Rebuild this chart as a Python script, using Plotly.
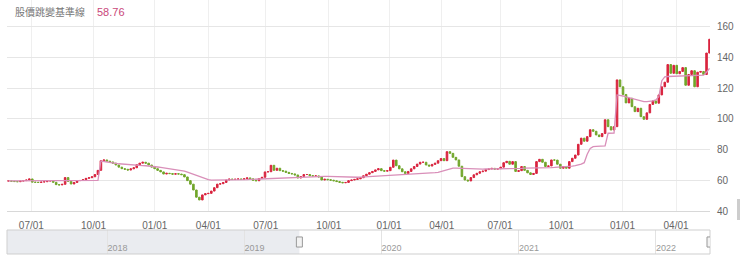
import pandas as pd
import plotly.graph_objects as go

TITLE = "股價跳變基準線"
TITLE_VALUE = "58.76"

start_date, end_date = "2019-05-27", "2022-05-25"
nav_start, nav_end = "2017-04-08", "2022-05-25"

holidays = [
    "2019-06-07", "2019-09-13", "2019-10-10", "2019-10-11",
    "2020-01-01", "2020-01-21", "2020-01-22", "2020-01-23", "2020-01-24", "2020-01-27",
    "2020-01-28", "2020-01-29", "2020-02-28", "2020-04-02", "2020-04-03", "2020-05-01",
    "2020-06-25", "2020-06-26", "2020-10-01", "2020-10-02", "2020-10-09",
    "2021-01-01", "2021-02-08", "2021-02-09", "2021-02-10", "2021-02-11", "2021-02-12",
    "2021-02-15", "2021-02-16", "2021-03-01", "2021-04-02", "2021-04-05", "2021-04-30",
    "2021-06-14", "2021-09-20", "2021-09-21", "2021-10-11", "2021-12-31",
    "2022-01-27", "2022-01-28", "2022-01-31", "2022-02-01", "2022-02-02", "2022-02-03",
    "2022-02-04", "2022-02-28", "2022-04-04", "2022-04-05", "2022-05-02",
]

quarter_starts = ["2019-07-01", "2019-10-01", "2020-01-01", "2020-04-01", "2020-07-01",
                  "2020-10-01", "2021-01-01", "2021-04-01", "2021-07-01", "2021-10-01",
                  "2022-01-01", "2022-04-01"]
quarter_labels = ["07/01", "10/01", "01/01", "04/01", "07/01", "10/01",
                  "01/01", "04/01", "07/01", "10/01", "01/01", "04/01"]
year_ticks = ["2018-01-01", "2019-01-01", "2020-01-01", "2021-01-01", "2022-01-01"]
year_labels = ["2018", "2019", "2020", "2021", "2022"]
y_ticks = [40, 60, 80, 100, 120, 140, 160]

close = [
    59.6, 59.4, 59.2, 59.1, 59.5, 59.8, 60.2, 60.9, 58.8, 58.7,
    58.6, 58.9, 59.1, 59.5, 59.8, 58.7, 57.2, 57.0, 57.4, 61.8,
    59.3, 57.6, 58.6, 59.8, 59.9, 60.4, 61.3, 61.7, 62.3, 63.8,
    66.5, 72.8, 73.3, 72.5, 72.0, 71.2, 70.0, 68.6, 67.6, 67.2,
    66.7, 67.5, 68.2, 70.2, 71.2, 71.8, 71.2, 70.0, 68.6, 67.6,
    66.5, 65.5, 64.1, 64.6, 64.4, 64.0, 64.3, 64.1, 63.7, 62.2,
    59.8, 57.5, 53.7, 49.0, 47.2, 50.5, 51.3, 51.5, 53.0, 55.2,
    57.5, 57.8, 58.6, 60.2, 60.8, 60.6, 60.7, 60.9, 60.6, 61.0,
    61.6, 61.0, 60.0, 59.7, 61.2, 62.0, 65.5, 65.6, 69.8, 66.5,
    67.9, 66.3, 66.0, 65.2, 64.5, 64.2, 63.5, 61.5, 62.5, 63.8,
    63.8, 63.0, 62.8, 62.9, 62.2, 60.2, 60.7, 60.4, 60.1, 59.7,
    59.2, 58.7, 58.4, 58.6, 59.8, 60.2, 60.6, 61.0, 61.7, 63.0,
    64.0, 65.0, 65.8, 66.8, 67.6, 66.3, 66.0, 66.3, 68.5, 73.2,
    69.5, 67.5, 65.6, 64.4, 65.8, 67.5, 69.0, 70.6, 71.8, 71.8,
    70.0, 69.3, 70.4, 71.2, 72.8, 74.2, 72.8, 78.7, 77.6, 75.0,
    73.3, 69.2, 62.4, 60.2, 59.6, 61.8, 63.6, 64.6, 65.6, 66.0,
    67.0, 67.4, 67.8, 67.3, 67.6, 68.6, 71.5, 72.4, 70.5, 72.2,
    65.8, 66.3, 69.0, 66.5, 64.9, 63.8, 64.5, 72.2, 73.7, 71.8,
    69.0, 69.4, 73.3, 73.2, 70.5, 67.9, 69.0, 67.9, 72.2, 74.4,
    76.5, 83.5, 87.5, 85.5, 88.5, 93.0, 92.0, 89.6, 88.5, 90.5,
    99.5, 95.0, 92.8, 95.0, 125.5, 121.0, 116.0, 110.5, 113.5, 108.0,
    104.8, 107.0, 101.5, 99.8, 104.0, 109.5, 111.8, 110.3, 115.7, 121.0,
    124.0, 135.5, 129.8, 135.0, 129.5, 131.0, 133.5, 122.0, 129.0, 131.5,
    121.0, 130.5, 131.0, 129.0, 143.0, 152.0,
]

baseline = [
    59.7, 59.7, 59.7, 59.7, 59.7, 59.7, 59.7, 59.8, 60.0, 60.0,
    60.0, 60.0, 60.0, 60.0, 60.0, 60.0, 60.0, 60.0, 60.0, 60.0,
    60.0, 60.0, 60.0, 60.0, 60.0, 60.0, 60.0, 60.0, 60.0, 60.0,
    60.0, 72.6, 72.4, 72.0, 71.7, 71.4, 71.1, 70.8, 70.6, 70.4,
    70.2, 70.0, 69.9, 69.8, 69.7, 69.6, 69.5, 69.4, 69.2, 69.0,
    68.7, 68.4, 68.1, 67.9, 67.7, 67.5, 67.3, 67.0, 66.7, 66.0,
    65.3, 64.6, 63.7, 62.8, 62.0, 61.3, 60.8, 60.4, 60.1, 60.1,
    60.1, 60.2, 60.2, 60.2, 60.2, 60.3, 60.3, 60.3, 60.4, 60.5,
    60.5, 60.6, 60.7, 60.7, 60.8, 60.9, 60.9, 61.0, 61.1, 61.2,
    61.3, 61.4, 61.5, 61.6, 61.7, 61.8, 61.9, 62.0, 62.1, 62.2,
    62.3, 62.4, 62.5, 62.5, 62.6, 62.6, 62.6, 62.6, 62.5, 62.5,
    62.4, 62.3, 62.2, 62.1, 62.0, 62.0, 62.0, 62.0, 62.1, 62.2,
    62.3, 62.4, 62.5, 62.6, 62.7, 62.8, 62.9, 63.0, 63.1, 63.2,
    63.3, 63.4, 63.5, 63.6, 63.7, 63.8, 63.9, 64.0, 64.2, 64.4,
    64.6, 64.8, 64.9, 65.0, 65.2, 65.8, 66.6, 67.2, 67.6, 67.9,
    67.9, 67.8, 67.7, 67.6, 67.5, 67.4, 67.3, 67.3, 67.3, 67.3,
    67.4, 67.4, 67.4, 67.5, 67.5, 67.5, 67.6, 67.6, 67.6, 67.7,
    67.7, 67.8, 67.8, 67.9, 67.9, 68.0, 68.0, 68.1, 68.1, 68.2,
    68.2, 68.3, 68.3, 68.4, 68.5, 68.6, 68.7, 68.8, 69.0, 69.3,
    69.6, 70.0, 70.6, 71.5, 77.0, 80.8, 82.0, 82.2, 82.4, 82.4,
    82.5, 90.7, 90.7, 90.8, 115.7, 115.5, 115.0, 114.4, 113.8, 113.2,
    112.6, 112.0, 111.5, 111.3, 111.3, 111.5, 111.8, 112.5, 114.5, 125.0,
    127.5, 127.7, 127.8, 127.8, 127.9, 128.0, 128.0, 128.1, 128.2, 128.3,
    128.3, 128.4, 128.5, 128.6, 130.5, 133.0,
]

RED = "#d9243f"
GREEN = "#71a62b"
PINK = "#d98fb9"
FONT = "Arial, 'Liberation Sans', 'Noto Sans CJK TC', sans-serif"

# trading-day calendar (ordinal axis)
days = pd.bdate_range(start_date, end_date)
days = days[~days.isin(pd.to_datetime(holidays))]
N = len(days)
M = len(close)
xs = [k * (N - 1) / (M - 1) for k in range(M)]
opens = [close[0]] + close[:-1]
highs = [max(o, c) for o, c in zip(opens, close)]
lows = [min(o, c) for o, c in zip(opens, close)]
tick_idx = [int(days.searchsorted(pd.Timestamp(q))) for q in quarter_starts]

fig = go.Figure()
fig.add_trace(go.Candlestick(
    x=xs, open=opens, high=highs, low=lows, close=close,
    increasing=dict(line=dict(color=RED, width=1), fillcolor=RED),
    decreasing=dict(line=dict(color=GREEN, width=1), fillcolor=GREEN),
    whiskerwidth=0, hoverinfo="skip", showlegend=False,
    xaxis="x", yaxis="y",
))
fig.add_trace(go.Scatter(
    x=xs, y=baseline, mode="lines", line=dict(color=PINK, width=1.3),
    hoverinfo="skip", showlegend=False, xaxis="x", yaxis="y",
))
fig.add_trace(go.Scatter(x=[nav_start, nav_end], y=[None, None], mode="lines",
                         showlegend=False, hoverinfo="skip", xaxis="x2", yaxis="y2"))

H_PLOT = 254.0
fig.update_layout(
    width=740, height=264,
    margin=dict(l=7, r=30, t=0, b=10),
    paper_bgcolor="white", plot_bgcolor="white",
    font=dict(family=FONT, size=10, color="#666666"),
    boxgap=0.25,
    xaxis=dict(
        domain=[0, 1], anchor="y", range=[-1.5, N - 0.5],
        rangeslider=dict(visible=False),
        tickvals=tick_idx, ticktext=quarter_labels,
        showgrid=True, gridcolor="#efefef", gridwidth=1,
        showline=True, linecolor="#d8d8d8", linewidth=1,
        zeroline=False, ticks="", ticklabelstandoff=5,
        tickfont=dict(size=10, color="#666666"),
        fixedrange=True,
    ),
    yaxis=dict(
        domain=[43 / H_PLOT, 1], anchor="x", range=[40, 177.6],
        side="right", tickvals=y_ticks,
        showgrid=True, gridcolor="#e6e6e6", gridwidth=1,
        zeroline=False, showline=False, ticks="",
        ticklabelstandoff=6,
        tickfont=dict(size=10, color="#666666"), fixedrange=True,
    ),
    xaxis2=dict(
        domain=[0, 1], anchor="y2", type="date", range=[nav_start, nav_end],
        tickvals=year_ticks, ticktext=year_labels,
        ticklabelposition="inside right", ticklabelstandoff=-5,
        showgrid=True, gridcolor="#e3e3e3", gridwidth=1,
        zeroline=False, showline=False, ticks="",
        tickfont=dict(size=9, color="#999999"), fixedrange=True,
    ),
    yaxis2=dict(
        domain=[0, 24 / H_PLOT], anchor="x2", range=[0, 1],
        showgrid=False, zeroline=False, showticklabels=False, fixedrange=True,
    ),
    shapes=[
        dict(type="rect", xref="x2", yref="y2 domain", x0=nav_start, x1=days[0],
             y0=0, y1=1, fillcolor="rgba(200,206,216,0.38)", line=dict(width=0),
             layer="below"),
        dict(type="rect", xref="paper", yref="y2 domain", x0=0, x1=1, y0=0, y1=1,
             line=dict(color="#cfcfcf", width=1), fillcolor="rgba(0,0,0,0)"),
        dict(type="rect", xref="x2", yref="y2 domain", xsizemode="pixel",
             xanchor=days[0], x0=-3, x1=3, y0=0.29, y1=0.71,
             fillcolor="#f2f2f2", line=dict(color="#999999", width=1)),
        dict(type="rect", xref="x2", yref="y2 domain", xsizemode="pixel",
             xanchor=days[-1], x0=-3, x1=3, y0=0.29, y1=0.71,
             fillcolor="#f2f2f2", line=dict(color="#999999", width=1)),
        dict(type="rect", xref="paper", yref="paper",
             x0=(737 - 7) / 703, x1=(740 - 7) / 703,
             y0=(254 - 220) / H_PLOT, y1=(254 - 199) / H_PLOT,
             fillcolor="#cdcdcd", line=dict(width=0)),
    ],
    annotations=[
        dict(text=TITLE, xref="paper", yref="paper", x=(13 - 7) / 703, y=(254 - 12) / H_PLOT,
             xanchor="left", yanchor="middle", showarrow=False,
             font=dict(family=FONT, size=10, color="#777777")),
        dict(text=TITLE_VALUE, xref="paper", yref="paper", x=(95 - 7) / 703, y=(254 - 12) / H_PLOT,
             xanchor="left", yanchor="middle", showarrow=False,
             font=dict(family=FONT, size=11, color="#c9487a")),
    ],
)

fig.write_html("out.html")
